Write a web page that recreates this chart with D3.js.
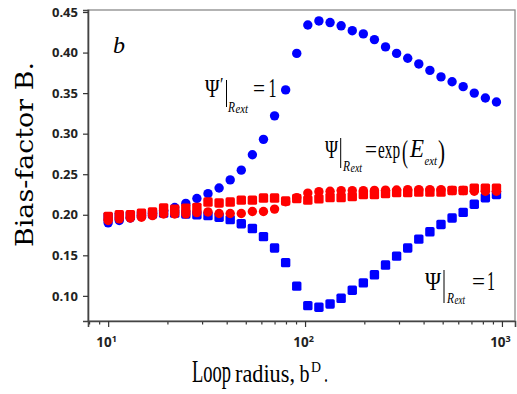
<!DOCTYPE html>
<html>
<head>
<meta charset="utf-8">
<script src="https://cdn.jsdelivr.net/npm/d3@7"></script>
<style>
  body { margin: 0; background: #fff; }
  .tick text { font-family: "Open Sans", sans-serif; font-weight: 700; fill: #222; }
</style>
</head>
<body>
<div id="chart"></div>
<script>
// --- Data ---
const radius = [10.0, 11.39, 12.96, 14.76, 16.80, 19.13, 21.78, 24.80, 28.23, 32.14,
  36.60, 41.67, 47.44, 54.01, 61.49, 70.01, 79.70, 90.75, 103.3, 117.6,
  134.0, 152.5, 173.7, 197.7, 225.1, 256.3, 291.8, 332.2, 378.2, 430.6,
  490.3, 558.2, 635.5, 723.6, 823.8, 937.9];

// Psi' = 1 (blue circles)
const blueCircles = [0.190, 0.193, 0.196, 0.199, 0.202, 0.205, 0.209, 0.214, 0.220, 0.226,
  0.233, 0.243, 0.255, 0.274, 0.293, 0.322, 0.354, 0.399, 0.434, 0.439,
  0.437, 0.433, 0.427, 0.423, 0.416, 0.407, 0.399, 0.393, 0.386, 0.378,
  0.370, 0.364, 0.358, 0.350, 0.344, 0.339];

// Psi = 1 (blue squares)
const blueSquares = [0.197, 0.198, 0.199, 0.200, 0.201, 0.202, 0.202, 0.201, 0.200, 0.199,
  0.197, 0.194, 0.189, 0.183, 0.173, 0.159, 0.141, 0.112, 0.088, 0.086,
  0.090, 0.097, 0.107, 0.116, 0.126, 0.138, 0.149, 0.159, 0.170, 0.179,
  0.188, 0.196, 0.203, 0.213, 0.221, 0.225];

// Psi = exp(E_ext) (red squares and red circles)
const redSquares = [0.198, 0.200, 0.200, 0.202, 0.2035, 0.2085, 0.207, 0.208, 0.209, 0.2157,
  0.2145, 0.2157, 0.218, 0.218, 0.2206, 0.2206, 0.217, 0.220, 0.218, 0.2196,
  0.2212, 0.2212, 0.2224, 0.2249, 0.2249, 0.2261, 0.2273, 0.2273, 0.228, 0.228,
  0.228, 0.230, 0.230, 0.2329, 0.2329, 0.2329];

const redCircles = [0.193, 0.195, 0.196, 0.197, 0.199, 0.201, 0.201, 0.201, 0.2026, 0.2035,
  0.2015, 0.2015, 0.2015, 0.204, 0.204, 0.207, 0.216, 0.221, 0.2267, 0.2285,
  0.229, 0.2298, 0.2298, 0.2298, 0.230, 0.2303, 0.2305, 0.231, 0.231, 0.231,
  0.231, 0.230, 0.230, 0.229, 0.229, 0.229];

const yTicks = [0.10, 0.15, 0.20, 0.25, 0.30, 0.35, 0.40, 0.45];
const xMajor = [10, 100, 1000];
const xMinor = [8, 9, 20, 30, 40, 50, 60, 70, 80, 90, 200, 300, 400, 500, 600, 700, 800, 900];

// --- plot sizes ---
const width = 517, height = 394;
const margin = { top: 10, right: 2, bottom: 73, left: 88 };

const svg = d3.select("#chart").append("svg")
  .attr("width", width)
  .attr("height", height);

// --- Scales/Axes ---
const x = d3.scaleLog()
  .domain([7.9, 1165])
  .range([margin.left, width - margin.right]);

const y = d3.scaleLinear()
  .domain([0.069, 0.4525])
  .range([height - margin.bottom, margin.top]);

// frame (top/right spines are lighter)
svg.append("rect")
  .attr("x", x.range()[0]).attr("y", y.range()[1])
  .attr("width", x.range()[1] - x.range()[0])
  .attr("height", y.range()[0] - y.range()[1])
  .attr("fill", "none").attr("stroke", "#8a8a8a").attr("stroke-width", 1.3);

// y axis
const yAxis = svg.append("g")
  .attr("transform", `translate(${margin.left},0)`)
  .call(d3.axisLeft(y).tickValues(yTicks).tickFormat(d3.format(".2f")).tickSize(5).tickPadding(5));
yAxis.selectAll("text").style("font-size", "13px");

// x axis, minor ticks
const xMinorAxis = svg.append("g")
  .attr("transform", `translate(0,${y.range()[0]})`)
  .call(d3.axisBottom(x).tickValues(xMinor).tickFormat("").tickSize(3.5));
xMinorAxis.select(".domain").remove();

// x axis, major ticks with 10^n labels
const xAxis = svg.append("g")
  .attr("transform", `translate(0,${y.range()[0]})`)
  .call(d3.axisBottom(x).tickValues(xMajor).tickFormat("").tickSize(6));

xAxis.selectAll(".tick").append("text")
  .attr("y", 26)
  .attr("x", -2)
  .attr("text-anchor", "middle")
  .style("font-size", "13.5px")
  .each(function(d) {
    const t = d3.select(this);
    t.append("tspan").text("10");
    t.append("tspan").attr("dy", -5).style("font-size", "9px").text(Math.round(Math.log10(d)));
  });

[yAxis, xAxis, xMinorAxis].forEach(a => {
  a.selectAll("line").attr("stroke", "#333").attr("stroke-width", 1.2);
  a.select(".domain").attr("stroke", "#444").attr("stroke-width", 1.6);
});

// --- Markers ---
const marks = svg.append("g");

const drawCircles = (vals, color) => {
  marks.append("g").selectAll("circle")
    .data(vals)
    .join("circle")
    .attr("cx", (d, i) => x(radius[i]))
    .attr("cy", d => y(d))
    .attr("r", 4.7)
    .attr("fill", color);
};

const drawSquares = (vals, color) => {
  const s = 9.4;
  marks.append("g").selectAll("rect")
    .data(vals)
    .join("rect")
    .attr("x", (d, i) => x(radius[i]) - s / 2)
    .attr("y", d => y(d) - s / 2)
    .attr("width", s).attr("height", s)
    .attr("rx", 1.6)
    .attr("fill", color);
};

drawCircles(blueCircles, "#0000ff");
drawSquares(blueSquares, "#0000ff");
drawSquares(redSquares, "#ff0000");
drawCircles(redCircles, "#ff0000");

// --- Text helpers ---
const txt = (s, px, py, size, w, opts = {}) => {
  const t = svg.append("text")
    .attr("x", px).attr("y", py)
    .style("font-family", "'Liberation Serif', 'Times New Roman', serif")
    .style("font-size", size + "px")
    .style("font-style", opts.italic ? "italic" : "normal")
    .style("fill", "#000")
    .text(s);
  if (w) t.attr("textLength", w).attr("lengthAdjust", "spacingAndGlyphs");
  return t;
};
const bar = (px, y0, y1) => svg.append("line")
  .attr("x1", px).attr("x2", px).attr("y1", y0).attr("y2", y1)
  .attr("stroke", "#000").attr("stroke-width", 1);

// panel letter
txt("b", 113, 53, 24, 12, { italic: true });

// Psi'|R_ext = 1
txt("\u03A8", 205, 97, 26, 14.5);
txt("\u2032", 220, 91, 18, 3.5);
bar(226.5, 80, 107);
txt("R", 228, 112, 15, 7, { italic: true });
txt("ext", 235.5, 113, 12, 12.5, { italic: true });
txt("=", 253, 97, 26, 12);
txt("1", 268.5, 97, 28, 8);

// Psi|R_ext = exp(E_ext)
txt("\u03A8", 325, 158, 26, 13);
bar(340.7, 138, 168);
txt("R", 343, 171, 15, 7, { italic: true });
txt("ext", 350.5, 172, 12, 11.5, { italic: true });
txt("=", 365, 158, 26, 12);
txt("exp", 378, 158, 26, 22);
txt("(", 402, 162, 31, 6);
txt("E", 410, 157, 26, 14, { italic: true });
txt("ext", 424.5, 165, 12, 12.5, { italic: true });
txt(")", 438, 162, 31, 7);

// Psi|R_ext = 1
txt("\u03A8", 425, 290, 26, 16);
bar(444, 270, 303);
txt("R", 447, 303, 15, 7, { italic: true });
txt("ext", 454.5, 304, 12, 10.5, { italic: true });
txt("=", 472, 290, 26, 13);
txt("1", 487, 290, 28, 8);

// --- Axis titles ---
txt("Loop", 192, 382, 32, 39);
txt("radius,", 235, 382, 25.5, 60);
txt("b", 299.5, 382, 25.5, 10);
txt("D", 311, 372, 15, 10);
txt(".", 324, 382, 25.5, 4);

svg.append("text")
  .attr("transform", "translate(33,154.5) rotate(-90)")
  .attr("text-anchor", "middle")
  .style("font-family", "'DejaVu Serif', serif")
  .style("font-size", "25px")
  .attr("textLength", 185)
  .attr("lengthAdjust", "spacingAndGlyphs")
  .text("Bias-factor B.");
</script>
</body>
</html>
